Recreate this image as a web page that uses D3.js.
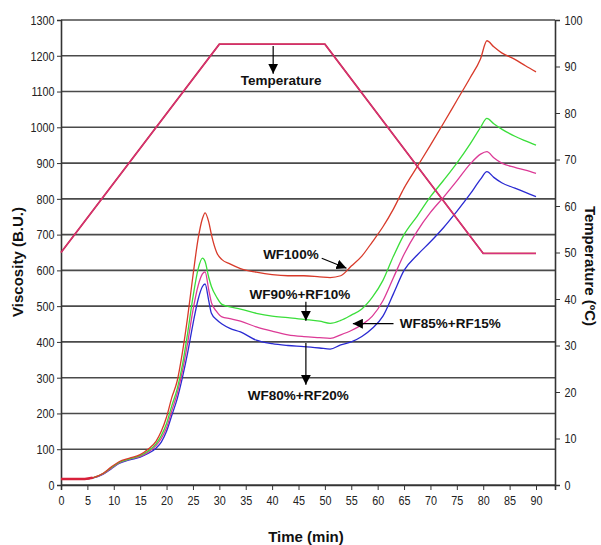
<!DOCTYPE html>
<html>
<head>
<meta charset="utf-8">
<script src="https://cdn.jsdelivr.net/npm/d3@7"></script>
<style>
  body { margin: 0; background: #fff; }
  svg text { font-family: Arial, "Liberation Sans", sans-serif; }
  .tick text { font-family: "Liberation Sans Narrow", "Arial Narrow", Arial, sans-serif; font-size: 13.5px; fill: #222; }
  .bold { font-weight: bold; fill: #111; }
</style>
</head>
<body>
<svg id="chart" width="601" height="545"></svg>
<script>
/* ---------------- data ---------------- */

let time = [0, 4.5, 6, 8, 9.5, 11, 13, 15, 16.5, 18, 19, 20, 21, 22, 23, 24, 25, 26, 26.8, 27.3,
    28, 28.5, 29.5, 30.5, 32, 34, 37, 40, 43, 46, 49, 51, 53, 55, 57, 59, 61, 63, 65, 67.5,
    70, 72.5, 75, 77.5, 79.5, 80.7, 82, 83.5, 86, 88, 90]

let wf100 = [17, 17, 20, 33, 50, 65, 75, 85, 100, 122, 150, 190, 245, 290, 370, 470, 585, 690, 745, 761,
    735, 700, 650, 630, 618, 605, 595, 588, 585, 585, 582, 580, 585, 612, 640, 680, 722, 772, 830, 890,
    950, 1012, 1075, 1138, 1192, 1242, 1225, 1208, 1190, 1172, 1155]

let wf90rf10 = [17, 17, 20, 32, 48, 63, 73, 82, 95, 115, 138, 172, 222, 268, 335, 425, 525, 605, 634, 625,
    580, 555, 525, 505, 498, 492, 480, 472, 468, 463, 458, 452, 460, 475, 492, 525, 572, 640, 700, 752,
    806, 852, 900, 953, 1000, 1025, 1010, 995, 975, 962, 950]

let wf85rf15 = [17, 17, 20, 31, 46, 62, 72, 80, 92, 110, 130, 160, 208, 255, 318, 398, 488, 558, 590, 596,
    545, 510, 485, 470, 465, 458, 442, 430, 420, 415, 412, 410, 420, 432, 448, 472, 515, 580, 645, 710,
    762, 805, 850, 897, 925, 932, 915, 900, 888, 880, 871]

let wf80rf20 = [17, 17, 19, 30, 45, 60, 70, 78, 88, 103, 120, 150, 195, 240, 300, 370, 450, 520, 555, 562,
    515, 480, 462, 450, 438, 428, 405, 395, 390, 387, 383, 380, 392, 400, 415, 438, 472, 535, 600, 643,
    680, 720, 765, 813, 855, 876, 860, 845, 830, 818, 806]

let tempTime = [0, 30, 50, 80, 90]
let tempValues = [50, 94.8, 94.8, 49.8, 49.8]

let seriesNames = ['WF80%+RF20%', 'WF85%+RF15%', 'WF90%+RF10%', 'WF100%']
let seriesColors = ['#2a2ad2', '#dc3a96', '#3ade3a', '#d83a2a']
let seriesValues = [wf80rf20, wf85rf15, wf90rf10, wf100]

let xTicks = d3.range(0, 91, 5)
let yTicks = d3.range(0, 1301, 100)
let tempTicks = d3.range(0, 101, 10)

/* ---------------- scales & axes ---------------- */

let svg = d3.select('#chart')
let plotLeft = 61, plotRight = 555, plotTop = 20, plotBottom = 485

let x = d3.scaleLinear().domain([0, 93.6]).range([plotLeft, plotRight])
let y = d3.scaleLinear().domain([0, 1300]).range([plotBottom, plotTop])
let yT = d3.scaleLinear().domain([0, 100]).range([plotBottom, plotTop])

// horizontal grid
svg.append('g')
    .selectAll('line')
    .data(yTicks)
    .enter().append('line')
    .attr('x1', plotLeft).attr('x2', plotRight)
    .attr('y1', d => y(d)).attr('y2', d => y(d))
    .attr('stroke', '#4a4a4a').attr('stroke-width', 1.6)

svg.append('g')
    .attr('transform', 'translate(0,' + plotBottom + ')')
    .call(d3.axisBottom(x).tickValues(xTicks).tickFormat(d3.format('d')).tickSize(5).tickPadding(5))
    .call(g => g.select('.domain').attr('stroke', '#333').attr('stroke-width', 1.6))

svg.append('g')
    .attr('transform', 'translate(' + plotLeft + ',0)')
    .call(d3.axisLeft(y).tickValues(yTicks).tickFormat(d3.format('d')).tickSize(4).tickPadding(4))
    .call(g => g.select('.domain').attr('stroke', '#333').attr('stroke-width', 1.6))

svg.append('g')
    .attr('transform', 'translate(' + plotRight + ',0)')
    .call(d3.axisRight(yT).tickValues(tempTicks).tickFormat(d3.format('d')).tickSize(5).tickPadding(7))
    .call(g => g.select('.domain').attr('stroke', '#333').attr('stroke-width', 1.6))

svg.selectAll('.tick line').attr('stroke', '#333')
// the reference uses a condensed face for tick labels
svg.selectAll('.tick text').attr('transform', 'scale(0.8,1)')

/* ---------------- curves ---------------- */

let line = d3.line()
    .x(d => x(d[0]))
    .y(d => y(d[1]))
    .curve(d3.curveMonotoneX)

seriesValues.forEach(function (vals, i) {
    svg.append('path')
        .datum(time.map((t, j) => [t, vals[j]]))
        .attr('fill', 'none')
        .attr('stroke', seriesColors[i])
        .attr('stroke-width', 1.3)
        .attr('d', line)
})

// start of the curves, all overlapping
svg.append('path')
    .datum(time.slice(0, 3).map((t, j) => [t, wf100[j]]))
    .attr('fill', 'none').attr('stroke', '#d8203a').attr('stroke-width', 2.5)
    .attr('d', line)

let tempLine = d3.line()
    .x(d => x(d[0]))
    .y(d => yT(d[1]))

let tempData = tempTime.map((t, j) => [t, tempValues[j]])
svg.append('path').datum(tempData)
    .attr('fill', 'none').attr('stroke', '#c8283a').attr('stroke-width', 1.8)
    .attr('d', tempLine)
svg.append('path').datum(tempData)
    .attr('fill', 'none').attr('stroke', '#d63080').attr('stroke-width', 1.1)
    .attr('d', tempLine)

/* ---------------- annotations ---------------- */

svg.append('defs').append('marker')
    .attr('id', 'head')
    .attr('viewBox', '0 0 10 10')
    .attr('refX', 10).attr('refY', 5)
    .attr('markerWidth', 10).attr('markerHeight', 10)
    .attr('markerUnits', 'userSpaceOnUse')
    .attr('orient', 'auto')
    .append('path').attr('d', 'M0,0 L10,5 L0,10 Z').attr('fill', '#000')

let labels = [
    { text: 'Temperature', t: 41.7, v: 1118, anchor: 'middle', from: [40.2, 1227], to: [40.2, 1150] },
    { text: 'WF100%', t: 38.3, v: 632, anchor: 'start', from: [49.4, 634], to: [54.1, 606] },
    { text: 'WF90%+RF10%', t: 35.7, v: 519, anchor: 'start', from: [46.4, 512], to: [46.4, 459] },
    { text: 'WF85%+RF15%', t: 64.2, v: 438, anchor: 'start', from: [63, 451], to: [55.3, 451] },
    { text: 'WF80%+RF20%', t: 35.4, v: 238, anchor: 'start', from: [46.4, 397], to: [46.4, 280] }
]

for (let lab of labels) {
    svg.append('line')
        .attr('x1', x(lab.from[0])).attr('y1', y(lab.from[1]))
        .attr('x2', x(lab.to[0])).attr('y2', y(lab.to[1]))
        .attr('stroke', '#000').attr('stroke-width', 1.2)
        .attr('marker-end', 'url(#head)')
    svg.append('text')
        .attr('class', 'bold')
        .attr('x', x(lab.t)).attr('y', y(lab.v))
        .attr('text-anchor', lab.anchor)
        .style('font-size', '13.5px')
        .text(lab.text)
}

/* ---------------- titles ---------------- */

svg.append('text').attr('class', 'bold')
    .attr('transform', 'translate(23,262) rotate(-90)')
    .attr('text-anchor', 'middle').style('font-size', '15px')
    .text('Viscosity (B.U.)')

svg.append('text').attr('class', 'bold')
    .attr('transform', 'translate(585,266) rotate(90)')
    .attr('text-anchor', 'middle').style('font-size', '15px')
    .text('Temperature (ºC)')

svg.append('text').attr('class', 'bold')
    .attr('x', 306).attr('y', 542)
    .attr('text-anchor', 'middle').style('font-size', '15px')
    .text('Time (min)')
</script>
</body>
</html>
